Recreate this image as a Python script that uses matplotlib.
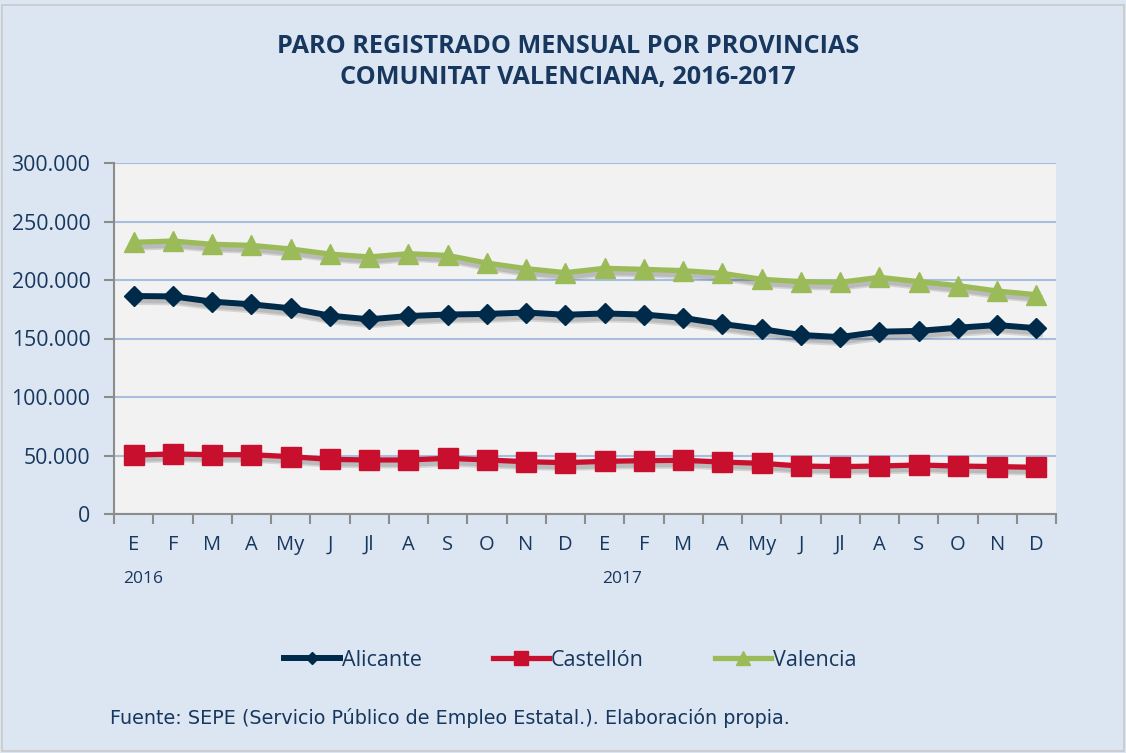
import matplotlib.pyplot as plt
import matplotlib.patheffects as pe
from matplotlib.patches import Rectangle
from matplotlib.ticker import FuncFormatter, FixedLocator

meses = ['E', 'F', 'M', 'A', 'My', 'J', 'Jl', 'A', 'S', 'O', 'N', 'D'] * 2
anios = ['2016', '2017']

alicante = [186300, 186000, 181500, 179200, 175800, 169500, 166400, 169200, 170500, 171000, 172200, 170300,
            171400, 170500, 167600, 162400, 158000, 153000, 151200, 155800, 156500, 159200, 161500, 158800]
castellon = [50400, 51300, 50700, 50700, 49000, 46700, 46200, 46200, 47600, 46200, 44700, 43900,
             45000, 45600, 45900, 44400, 43300, 41000, 40500, 41000, 41900, 41000, 40500, 39900]
valencia = [232200, 233300, 230500, 229600, 226500, 222200, 219700, 222500, 221000, 214500, 209700, 206300,
            210000, 209100, 208000, 205700, 200600, 198600, 198000, 202300, 198600, 195200, 190600, 187400]

navy = '#17375E'
fondo = '#DCE6F2'

fig = plt.figure(figsize=(11.26, 7.53), dpi=100, facecolor=fondo)
fig.patches.append(Rectangle((0.002, 0.002), 0.996, 0.992, transform=fig.transFigure,
                             fill=False, edgecolor='#C8C8C8', linewidth=1.2))

ax = fig.add_axes([114 / 1126, 1 - 514 / 753, 942 / 1126, 351 / 753])
ax.set_facecolor('#F2F2F2')

x = list(range(len(meses)))
series = [
    (alicante, '#002A4A', 4.3, 'D', 10, 'Alicante'),
    (castellon, '#C8102E', 3.8, 's', 14.5, 'Castellón'),
    (valencia, '#9BBB59', 3.8, '^', 14.5, 'Valencia'),
]

# sombra suave bajo la línea (como el efecto de Excel)
for y, color, lw, mk, ms, nombre in series:
    ax.plot(x, y, color=color, lw=lw, zorder=2,
            path_effects=[pe.SimpleLineShadow(offset=(1.5, -3), shadow_color='k', alpha=0.12,
                                              linewidth=lw * 1.6),
                          pe.SimpleLineShadow(offset=(1.5, -3), shadow_color='k', alpha=0.12,
                                              linewidth=lw * 1.0)])
    ax.plot(x, y, color=color, lw=lw, marker=mk, ms=ms, label=nombre, zorder=3)

ax.set_xlim(-0.5, len(meses) - 0.5)
ax.set_ylim(0, 300000)
ax.set_yticks(range(0, 300001, 50000))
ax.yaxis.set_major_formatter(FuncFormatter(lambda v, p: '{:,.0f}'.format(v).replace(',', '.')))
ax.grid(axis='y', color='#A7BFDE', lw=1.5, zorder=1)
ax.set_axisbelow(True)

ax.set_xticks(x)
ax.set_xticklabels(meses)
ax.xaxis.set_minor_locator(FixedLocator([i - 0.5 for i in range(len(meses) + 1)]))
ax.tick_params(axis='x', which='major', length=0, pad=15, labelsize=14.5, labelcolor=navy)
ax.tick_params(axis='x', which='minor', length=7, width=1.5, color='#8C8C8C')
ax.tick_params(axis='y', length=7, width=1.5, color='#8C8C8C', labelsize=15.3, labelcolor=navy, pad=10)
for lab in ax.get_xticklabels() + ax.get_yticklabels():
    lab.set_family('Open Sans')

for s in ['top', 'right']:
    ax.spines[s].set_visible(False)
for s in ['left', 'bottom']:
    ax.spines[s].set_color('#8C8C8C')
    ax.spines[s].set_linewidth(1.5)

fig.text(143 / 1126, 1 - 579 / 753, anios[0], fontsize=12.5, color=navy, family='Open Sans',
         ha='center', va='center')
fig.text(622 / 1126, 1 - 579 / 753, anios[1], fontsize=12.5, color=navy, family='Open Sans',
         ha='center', va='center')

fig.text(568 / 1126, 1 - 62 / 753, 'PARO REGISTRADO MENSUAL POR PROVINCIAS\nCOMUNITAT VALENCIANA, 2016-2017',
         fontsize=18.2, fontweight='bold', color=navy, family='Open Sans', ha='center', va='center',
         linespacing=1.3)

leg = fig.legend(loc='center', bbox_to_anchor=(570 / 1126, 1 - 660 / 753), ncol=3, frameon=False,
                 handlelength=2.6, handletextpad=0.1, columnspacing=3.3, markerscale=0.65,
                 prop={'family': 'Open Sans', 'size': 15.5})
for t in leg.get_texts():
    t.set_color(navy)

fig.text(110 / 1126, 1 - 718 / 753,
         'Fuente: SEPE (Servicio Público de Empleo Estatal.). Elaboración propia.',
         fontsize=13.8, color=navy, family='DejaVu Sans', ha='left', va='center')

plt.savefig('out.png', dpi=100, facecolor=fondo)
